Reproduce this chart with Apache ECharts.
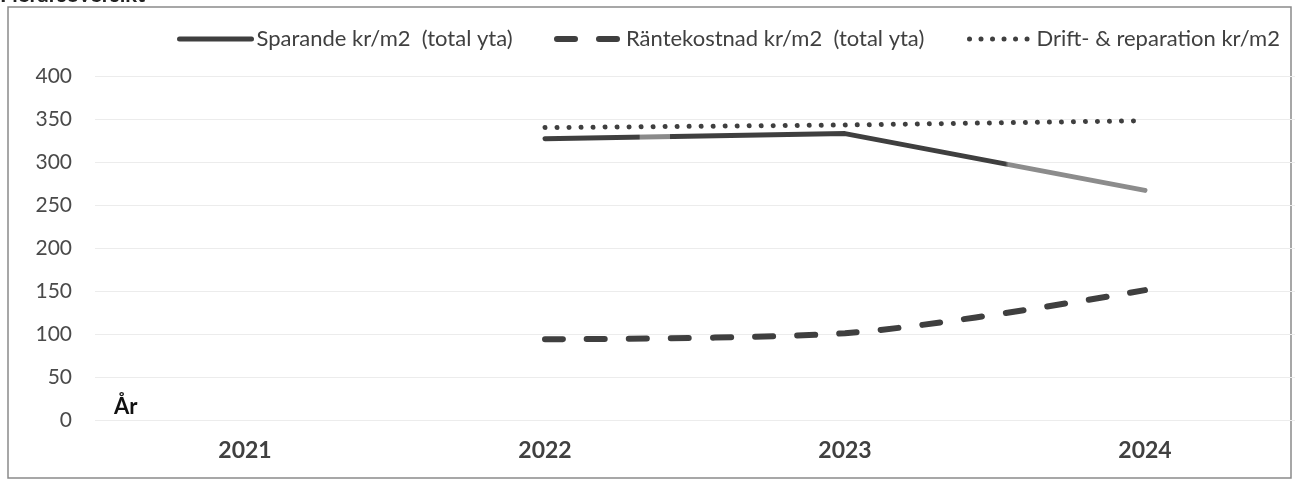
<!DOCTYPE html>
<html><head><meta charset="utf-8">
<script src="https://cdn.jsdelivr.net/npm/echarts@6/dist/echarts.min.js"></script>
<style>html,body{margin:0;padding:0;background:#fff}#c{width:1295px;height:480px}</style>
</head><body><div id="c"></div>
<script>
const years = ['2021','2022','2023','2024'];
const sparande = [null, 327, 333, 267];
const rantekostnad = [null, 94, 101, 151];
const drift = [null, 340, 343, 348];
const yTicks = [0, 50, 100, 150, 200, 250, 300, 350, 400];
const names = ['Sparande kr/m2  (total yta)', 'Räntekostnad kr/m2  (total yta)', 'Drift- & reparation kr/m2'];

const FONT = 'Lato';
const DARK = '#3f3f3f';
const chart = echarts.init(document.getElementById('c'));
const sparColor = new echarts.graphic.LinearGradient(0,0,1,0,[
  {offset:0,color:DARK},{offset:0.16,color:DARK},{offset:0.161,color:'#8a8a8a'},{offset:0.21,color:'#8a8a8a'},{offset:0.211,color:DARK},
  {offset:0.765,color:DARK},{offset:0.77,color:'#8c8c8c'},{offset:1,color:'#8c8c8c'}]);
const legendCommon = {top: 23, itemHeight: 14, itemStyle:{opacity:0},
  textStyle:{fontFamily:FONT,fontSize:22,color:'#404040'}, itemGap: 0, selectedMode:false};
chart.setOption({
  animation:false,
  textStyle:{fontFamily:FONT},
  graphic:[
    {type:'rect', shape:{x:8,y:7,width:1283,height:471}, style:{fill:'none',stroke:'#8a8a8a',lineWidth:1.5}, silent:true},
    {type:'text', left:0, top:-16, style:{text:'Flerårsöversikt', font:'bold 22px '+FONT, fill:'#222'}},
    {type:'text', left:114, top:396, style:{text:'År', font:'bold 22px '+FONT, fill:'#111'}}
  ],
  legend:[
    Object.assign({}, legendCommon, {left:172, itemWidth:72,
      data:[{name:names[0], lineStyle:{color:DARK, width:5, cap:'round'}}]}),
    Object.assign({}, legendCommon, {left:549, itemWidth:64,
      data:[{name:names[1], lineStyle:{color:DARK, width:6, type:[18,24], cap:'round'}}]}),
    Object.assign({}, legendCommon, {left:962, itemWidth:62,
      data:[{name:names[2], lineStyle:{color:DARK, width:5, type:[0.01,11.5], cap:'round'}}]})
  ],
  grid:{left:95, right:0, top:76, bottom:60},
  xAxis:{type:'category', data:years, boundaryGap:true,
    axisLine:{show:false}, axisTick:{show:false},
    axisLabel:{fontFamily:FONT, fontSize:23, fontWeight:'bold', color:'#404040', margin:19}},
  yAxis:{type:'value', min:0, max:400, interval:50,
    axisLine:{show:false}, axisTick:{show:false},
    splitLine:{lineStyle:{color:'#ececec', width:1}},
    axisLabel:{fontFamily:FONT, fontSize:21, color:'#4a4a4a', margin:23}},
  series:[
    {name:names[0], type:'line', data:sparande, symbol:'none', color:DARK,
      lineStyle:{width:5, color:sparColor, cap:'round'}},
    {name:names[1], type:'line', data:rantekostnad, symbol:'none', smooth:0.3, color:DARK,
      lineStyle:{width:6, color:DARK, type:[18,24], cap:'round'}},
    {name:names[2], type:'line', data:drift, symbol:'none', color:DARK,
      lineStyle:{width:5, color:DARK, type:[0.01,12], cap:'round'}}
  ]
});
</script></body></html>
